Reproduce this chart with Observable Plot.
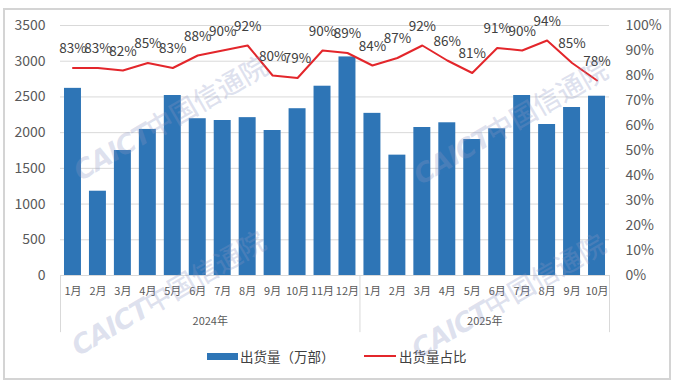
<!DOCTYPE html>
<html>
<head>
<meta charset="utf-8">
<script src="https://cdn.jsdelivr.net/npm/d3@7"></script>
<script src="https://cdn.jsdelivr.net/npm/@observablehq/plot@0.6"></script>
<style>
  html, body { margin: 0; padding: 0; background: #fff; }
  body { width: 681px; height: 385px; position: relative; overflow: hidden; font-family: "Noto Sans CJK SC", "Noto Sans", sans-serif; }
  #frame { position: absolute; left: 3px; top: 8px; width: 668px; height: 372px; box-sizing: border-box; border: 2px solid #d4d4d4; pointer-events: none; }
  #chart { position: absolute; left: 0; top: 0; }
  #legend { position: absolute; left: 0; top: 345px; width: 681px; height: 22px; font-size: 13.5px; color: #404040; }
  .lg { position: absolute; top: 0; line-height: 22px; white-space: nowrap; }
  .sw { position: absolute; }
  .wm { position: absolute; height: 28px; transform-origin: 0 100%; transform: rotate(-30deg); white-space: nowrap; color: rgba(140,150,195,0.28); line-height: 28px; pointer-events: none; }
  .wm b { font-family: "DejaVu Sans", sans-serif; font-style: italic; font-weight: bold; font-size: 27px; letter-spacing: -1px; }
  .wm span { font-size: 27px; font-weight: 500; }
</style>
</head>
<body>
<div id="chart"></div>
<div id="legend"></div>
<div id="frame"></div>
<script>
// ---- data ----
const years = ["2024年", "2025年"];
const months2024 = ["1月","2月","3月","4月","5月","6月","7月","8月","9月","10月","11月","12月"];
const months2025 = ["1月","2月","3月","4月","5月","6月","7月","8月","9月","10月"];
const shipments2024 = [2620, 1180, 1750, 2045, 2520, 2195, 2170, 2210, 2030, 2335, 2650, 3060];
const shipments2025 = [2270, 1685, 2072, 2138, 1904, 2054, 2520, 2114, 2352, 2510];
const share2024 = [83, 83, 82, 85, 83, 88, 90, 92, 80, 79, 90, 89];
const share2025 = [84, 87, 92, 86, 81, 91, 90, 94, 85, 78];
const leftTicks = [0, 500, 1000, 1500, 2000, 2500, 3000, 3500];
const rightTicks = [0, 10, 20, 30, 40, 50, 60, 70, 80, 90, 100];
const seriesNames = ["出货量（万部）", "出货量占比"];

// ---- build table ----
const yMax = 3500;
const rows = [];
months2024.forEach((m, i) => rows.push({key: "2024-" + (i + 1), month: m, ship: shipments2024[i], share: share2024[i]}));
months2025.forEach((m, i) => rows.push({key: "2025-" + (i + 1), month: m, ship: shipments2025[i], share: share2025[i]}));
const keys = rows.map(d => d.key);
const monthOf = new Map(rows.map(d => [d.key, d.month]));

const W = 681, H = 340, mL = 60, mR = 72, mT = 25, mB = 65;
const step = (W - mL - mR) / keys.length;
const blue = "#2e75b6", red = "#e3262b", grid = "#d9d9d9", txt = "#595959";

const yearLabels = [
  {key: "2024-6", text: years[0]},
  {key: "2025-5", text: years[1]}
];

const chart = Plot.plot({
  width: W, height: H,
  marginTop: mT, marginBottom: mB, marginLeft: mL, marginRight: mR,
  style: {fontFamily: "'Noto Sans CJK SC', 'Noto Sans', sans-serif", background: "transparent", overflow: "visible"},
  x: {type: "band", domain: keys, paddingInner: 0.32, paddingOuter: 0.16, align: 0.5, round: false, axis: null},
  y: {domain: [0, yMax], axis: null},
  marks: [
    Plot.ruleY(leftTicks, {stroke: grid, strokeWidth: 1}),
    Plot.barY(rows, {x: "key", y: "ship", fill: blue}),
    Plot.line(rows, {x: "key", y: d => d.share / 100 * yMax, stroke: red, strokeWidth: 2}),
    Plot.text(rows, {x: "key", y: d => d.share / 100 * yMax, text: d => d.share + "%", dy: -19, fontSize: 13.5, fill: "#404040"}),
    Plot.axisY({ticks: leftTicks, tickFormat: d => String(d), tickSize: 0, tickPadding: 15, fontSize: 14, fill: txt, label: null}),
    Plot.axisY({anchor: "right", ticks: rightTicks.map(p => p / 100 * yMax), tickFormat: v => Math.round(v / yMax * 100) + "%", tickSize: 0, tickPadding: 16, fontSize: 14, fill: txt, label: null}),
    Plot.axisX({tickSize: 0, tickPadding: 12, fontSize: 11, fill: txt, tickFormat: k => monthOf.get(k), label: null}),
    Plot.ruleX(["2024-1", "2025-1"], {dx: -step / 2, y1: 0, y2: -800, stroke: grid, strokeWidth: 1}),
    Plot.ruleX(["2025-10"], {dx: step / 2, y1: 0, y2: -800, stroke: grid, strokeWidth: 1}),
    Plot.text(yearLabels, {x: "key", text: "text", frameAnchor: "bottom", dx: step / 2, dy: 49, fontSize: 11, fill: txt})
  ]
});
document.getElementById("chart").appendChild(chart);

// ---- legend ----
const lg = document.getElementById("legend");
lg.innerHTML =
  `<div class="sw" style="left:207px;top:8px;width:31px;height:7px;background:${blue}"></div>` +
  `<div class="lg" style="left:240px">${seriesNames[0]}</div>` +
  `<div class="sw" style="left:364px;top:10px;width:32px;height:2px;background:${red}"></div>` +
  `<div class="lg" style="left:399px">${seriesNames[1]}</div>`;

// ---- watermark ----
const wmPos = [[82, 184], [422, 188], [80, 359], [420, 362]];
wmPos.forEach(([x, y]) => {
  const d = document.createElement("div");
  d.className = "wm";
  d.style.left = x + "px";
  d.style.top = (y - 28) + "px";
  d.innerHTML = "<b>CAICT</b><span>中国信通院</span>";
  document.body.appendChild(d);
});
</script>
</body>
</html>
